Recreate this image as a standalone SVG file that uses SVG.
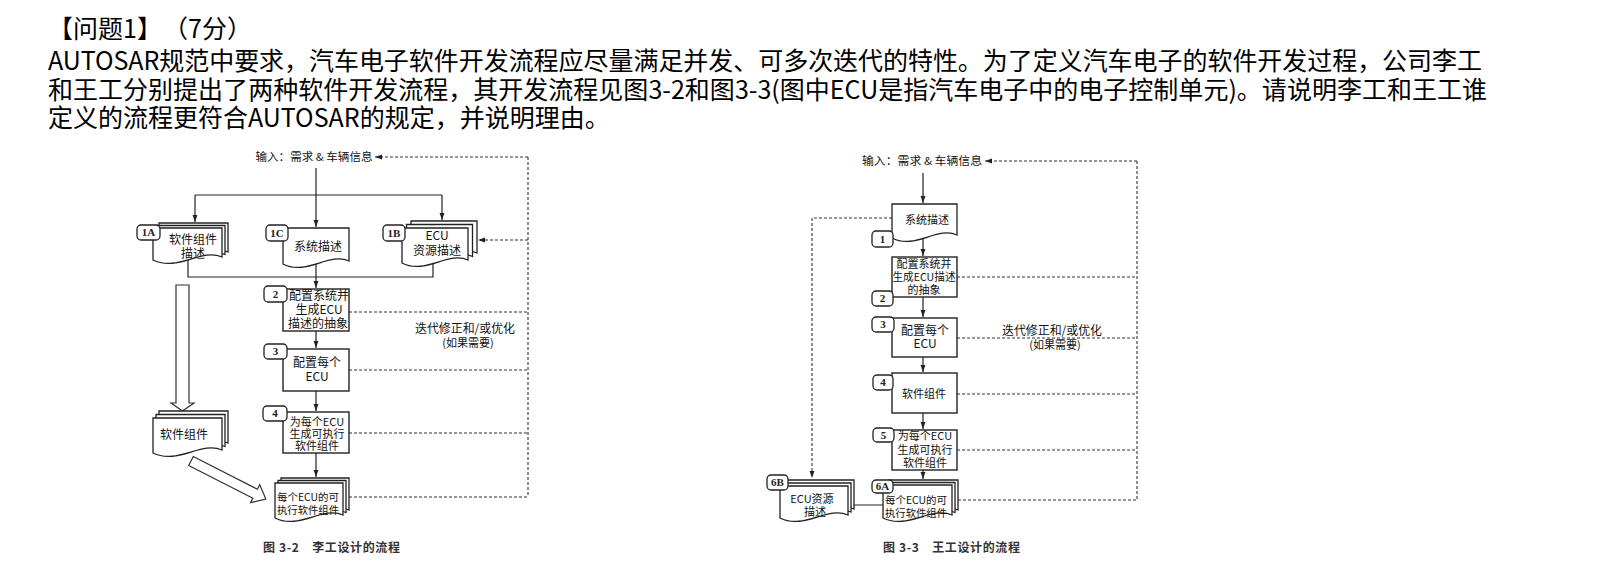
<svg xmlns="http://www.w3.org/2000/svg" xmlns:xlink="http://www.w3.org/1999/xlink" width="1614" height="577" viewBox="0 0 1614 577">
<style>
.h{font-family:"Noto Sans CJK SC","Noto Sans",sans-serif;font-size:25px;fill:#000}
.t{font-family:"Noto Sans CJK SC","Noto Sans",sans-serif;fill:#111;text-anchor:middle}
.s10{font-size:10px}.s11{font-size:11px}.s12{font-size:12px}
.cap{font-family:"Noto Sans CJK SC",sans-serif;font-size:12px;font-weight:bold;fill:#333}
.doc{fill:#fff;stroke:#222;stroke-width:1.3}
.box{fill:#fff;stroke:#222;stroke-width:1.4}
.lb{fill:#fff;stroke:#222;stroke-width:1.3}
.lt{font-family:"Liberation Serif",serif;font-weight:bold;font-size:11px;fill:#222;text-anchor:middle}
.ln{fill:none;stroke:#222;stroke-width:1.2}
.da{fill:none;stroke:#333;stroke-width:1.1;stroke-dasharray:3,2}
.hol{fill:#fff;stroke:#333;stroke-width:1.2}
</style>
<defs>
<marker id="ah" viewBox="0 0 10 10" refX="10" refY="5" markerWidth="7" markerHeight="7" markerUnits="userSpaceOnUse" orient="auto"><path d="M0,1.5 L10,5 L0,8.5 z" fill="#222"/></marker>
<path id="p1A" d="M153,228H222V257C201.3,248 177.2,272 153,260Z"/>
<path id="p1C" d="M283,228H349V261C329.2,252 306.1,276 283,264Z"/>
<path id="p1B" d="M402,228H468V260C448.2,251 425.1,275 402,263Z"/>
<path id="pSW" d="M153,418H222V450C201.3,441 177.2,465 153,453Z"/>
<path id="pExe" d="M275,483H343V515C322.6,506 298.8,530 275,518Z"/>
<path id="pSys" d="M892,204H957V235C937.5,226 914.8,250 892,238Z"/>
<path id="p6A" d="M883,485H952V515C931.3,506 907.2,530 883,518Z"/>
<path id="p6B" d="M780,486H848V515C827.6,506 803.8,530 780,518Z"/>
</defs>
<rect width="1614" height="577" fill="#fff"/>

<g id="question">
<text class="h" x="48" y="38">【问题1】</text>
<text class="h" x="163" y="38">（7分）</text>
<text class="h" x="48" y="70" textLength="1434" lengthAdjust="spacing">AUTOSAR规范中要求，汽车电子软件开发流程应尽量满足并发、可多次迭代的特性。为了定义汽车电子的软件开发过程，公司李工</text>
<text class="h" x="48" y="99" textLength="1439" lengthAdjust="spacing">和王工分别提出了两种软件开发流程，其开发流程见图3-2和图3-3(图中ECU是指汽车电子中的电子控制单元)。请说明李工和王工谁</text>
<text class="h" x="48" y="127">定义的流程更符合AUTOSAR的规定，并说明理由。</text>
</g>

<!-- ===== Figure 3-2 ===== -->
<g id="connectors-3-2">
<path class="ln" d="M316,168 V227" marker-end="url(#ah)"/>
<path class="ln" d="M195,195 H442"/>
<path class="ln" d="M195,195 V222" marker-end="url(#ah)"/>
<path class="ln" d="M442,195 V220" marker-end="url(#ah)"/>
<path class="ln" d="M188,255 V277 H433 V255"/>
<path class="ln" d="M316,255 V288" marker-end="url(#ah)"/>
<path class="ln" d="M316,331 V348" marker-end="url(#ah)"/>
<path class="ln" d="M316,391 V411" marker-end="url(#ah)"/>
<path class="ln" d="M316,453 V477" marker-end="url(#ah)"/>
<path class="da" d="M528,157 H375" marker-end="url(#ah)"/>
<path class="da" d="M528,157 V497"/>
<path class="da" d="M528,240 H478" marker-end="url(#ah)"/>
<path class="da" d="M349,312 H528"/>
<path class="da" d="M349,370 H528"/>
<path class="da" d="M349,433 H528"/>
<path class="da" d="M349,497 H528"/>
<polygon class="hol" points="176,285 189,285 189,403 194,403 182.5,411 171,403 176,403"/>
<g transform="translate(191,461) rotate(27)"><polygon class="hol" points="0,-5 72,-5 72,-10 84,0 72,10 72,5 0,5"/></g>
</g>

<g id="input-3-2"><text class="t s11" x="314" y="161" textLength="117" lengthAdjust="spacingAndGlyphs">输入：需求 &amp; 车辆信息</text></g>

<g id="n1A">
<use xlink:href="#p1A" class="doc" transform="translate(6,-5)"/>
<use xlink:href="#p1A" class="doc" transform="translate(3,-2.5)"/>
<use xlink:href="#p1A" class="doc"/>
<rect class="lb" x="137" y="225" width="23" height="15" rx="4"/>
<text class="lt" x="148.5" y="236">1A</text>
<text class="t s12" x="193" y="244">软件组件</text>
<text class="t s12" x="193" y="258">描述</text>
</g>
<g id="n1C">
<use xlink:href="#p1C" class="doc"/>
<rect class="lb" x="266" y="225" width="22" height="16" rx="4"/>
<text class="lt" x="277" y="237">1C</text>
<text class="t s12" x="318" y="251">系统描述</text>
</g>
<g id="n1B">
<use xlink:href="#p1B" class="doc" transform="translate(9,-7)"/>
<use xlink:href="#p1B" class="doc" transform="translate(4.5,-3.5)"/>
<use xlink:href="#p1B" class="doc"/>
<rect class="lb" x="383" y="225" width="22" height="16" rx="4"/>
<text class="lt" x="394" y="237">1B</text>
<text class="t s12" x="437" y="240">ECU</text>
<text class="t s12" x="437" y="255">资源描述</text>
</g>
<g id="n2L">
<rect class="box" x="283" y="289" width="66" height="42"/>
<rect class="lb" x="264" y="286" width="23" height="16" rx="4"/>
<text class="lt" x="275.5" y="298">2</text>
<text class="t s12" x="319" y="300">配置系统并</text>
<text class="t s12" x="319" y="314">生成ECU</text>
<text class="t s12" x="318" y="328">描述的抽象</text>
</g>
<g id="n3L">
<rect class="box" x="283" y="349" width="66" height="42"/>
<rect class="lb" x="264" y="344" width="23" height="15" rx="4"/>
<text class="lt" x="275.5" y="355">3</text>
<text class="t s12" x="317" y="367">配置每个</text>
<text class="t s12" x="317" y="381">ECU</text>
</g>
<g id="n4L">
<rect class="box" x="283" y="412" width="66" height="41"/>
<rect class="lb" x="263" y="406" width="24" height="15" rx="4"/>
<text class="lt" x="275" y="417">4</text>
<text class="t s11" x="317" y="426">为每个ECU</text>
<text class="t s11" x="317" y="438">生成可执行</text>
<text class="t s11" x="317" y="450">软件组件</text>
</g>
<g id="nSW">
<use xlink:href="#pSW" class="doc" transform="translate(6,-7)"/>
<use xlink:href="#pSW" class="doc" transform="translate(3,-3.5)"/>
<use xlink:href="#pSW" class="doc"/>
<text class="t s12" x="184" y="439">软件组件</text>
</g>
<g id="nExeL">
<use xlink:href="#pExe" class="doc" transform="translate(6,-5)"/>
<use xlink:href="#pExe" class="doc" transform="translate(3,-2.5)"/>
<use xlink:href="#pExe" class="doc"/>
<text class="t s10" x="308" y="501" textLength="62" lengthAdjust="spacingAndGlyphs">每个ECU的可</text>
<text class="t s10" x="308" y="514" textLength="62" lengthAdjust="spacingAndGlyphs">执行软件组件</text>
</g>
<g id="iter-3-2">
<text class="t s12" x="465" y="333" textLength="100" lengthAdjust="spacingAndGlyphs">迭代修正和/或优化</text>
<text class="t s11" x="468" y="347">(如果需要)</text>
</g>
<text class="cap" x="263" y="552" textLength="137" lengthAdjust="spacing">图 3-2　李工设计的流程</text>

<!-- ===== Figure 3-3 ===== -->
<g id="connectors-3-3">
<path class="ln" d="M923,173 V203" marker-end="url(#ah)"/>
<path class="ln" d="M923,235 V256" marker-end="url(#ah)"/>
<path class="ln" d="M923,297 V317" marker-end="url(#ah)"/>
<path class="ln" d="M923,357 V372" marker-end="url(#ah)"/>
<path class="ln" d="M923,413 V429" marker-end="url(#ah)"/>
<path class="ln" d="M923,470 V479" marker-end="url(#ah)"/>
<path class="ln" d="M850,505 H884"/>
<path class="da" d="M1137,161 H985" marker-end="url(#ah)"/>
<path class="da" d="M1137,161 V500"/>
<path class="da" d="M957,277 H1137"/>
<path class="da" d="M957,338 H1137"/>
<path class="da" d="M957,394 H1137"/>
<path class="da" d="M957,450 H1137"/>
<path class="da" d="M958,500 H1137"/>
<path class="da" d="M892,218 H812 V478" marker-end="url(#ah)"/>
</g>

<g id="input-3-3"><text class="t s11" x="922" y="165" textLength="120" lengthAdjust="spacingAndGlyphs">输入：需求 &amp; 车辆信息</text></g>

<g id="n1R">
<use xlink:href="#pSys" class="doc"/>
<rect class="lb" x="872" y="231" width="21" height="16" rx="4"/>
<text class="lt" x="882.5" y="243">1</text>
<text class="t s11" x="927" y="224">系统描述</text>
</g>
<g id="n2R">
<rect class="box" x="892" y="257" width="65" height="40"/>
<rect class="lb" x="872" y="291" width="21" height="15" rx="4"/>
<text class="lt" x="882.5" y="302">2</text>
<text class="t s11" x="924" y="268">配置系统并</text>
<text class="t s11" x="924" y="281" textLength="63" lengthAdjust="spacingAndGlyphs">生成ECU描述</text>
<text class="t s11" x="924" y="294">的抽象</text>
</g>
<g id="n3R">
<rect class="box" x="892" y="318" width="65" height="39"/>
<rect class="lb" x="872" y="317" width="22" height="15" rx="4"/>
<text class="lt" x="883" y="328">3</text>
<text class="t s12" x="925" y="335">配置每个</text>
<text class="t s12" x="925" y="348">ECU</text>
</g>
<g id="n4R">
<rect class="box" x="892" y="373" width="65" height="40"/>
<rect class="lb" x="873" y="375" width="20" height="15" rx="4"/>
<text class="lt" x="883" y="386">4</text>
<text class="t s11" x="924" y="398">软件组件</text>
</g>
<g id="n5R">
<rect class="box" x="892" y="430" width="65" height="40"/>
<rect class="lb" x="873" y="428" width="21" height="14" rx="4"/>
<text class="lt" x="883.5" y="439">5</text>
<text class="t s11" x="925" y="440">为每个ECU</text>
<text class="t s11" x="925" y="454">生成可执行</text>
<text class="t s11" x="925" y="467">软件组件</text>
</g>
<g id="n6A">
<use xlink:href="#p6A" class="doc" transform="translate(6,-5)"/>
<use xlink:href="#p6A" class="doc" transform="translate(3,-2.5)"/>
<use xlink:href="#p6A" class="doc"/>
<rect class="lb" x="872" y="480" width="21" height="13" rx="4"/>
<text class="lt" x="882.5" y="490">6A</text>
<text class="t s10" x="916" y="504" textLength="62" lengthAdjust="spacingAndGlyphs">每个ECU的可</text>
<text class="t s10" x="916" y="517" textLength="62" lengthAdjust="spacingAndGlyphs">执行软件组件</text>
</g>
<g id="n6B">
<use xlink:href="#p6B" class="doc" transform="translate(6,-6)"/>
<use xlink:href="#p6B" class="doc" transform="translate(3,-3)"/>
<use xlink:href="#p6B" class="doc"/>
<rect class="lb" x="767" y="475" width="21" height="15" rx="4"/>
<text class="lt" x="777.5" y="486">6B</text>
<text class="t s11" x="812" y="503">ECU资源</text>
<text class="t s11" x="815" y="516">描述</text>
</g>
<g id="iter-3-3">
<text class="t s12" x="1052" y="335" textLength="100" lengthAdjust="spacingAndGlyphs">迭代修正和/或优化</text>
<text class="t s11" x="1055" y="349">(如果需要)</text>
</g>
<text class="cap" x="883" y="552" textLength="137" lengthAdjust="spacing">图 3-3　王工设计的流程</text>
</svg>
